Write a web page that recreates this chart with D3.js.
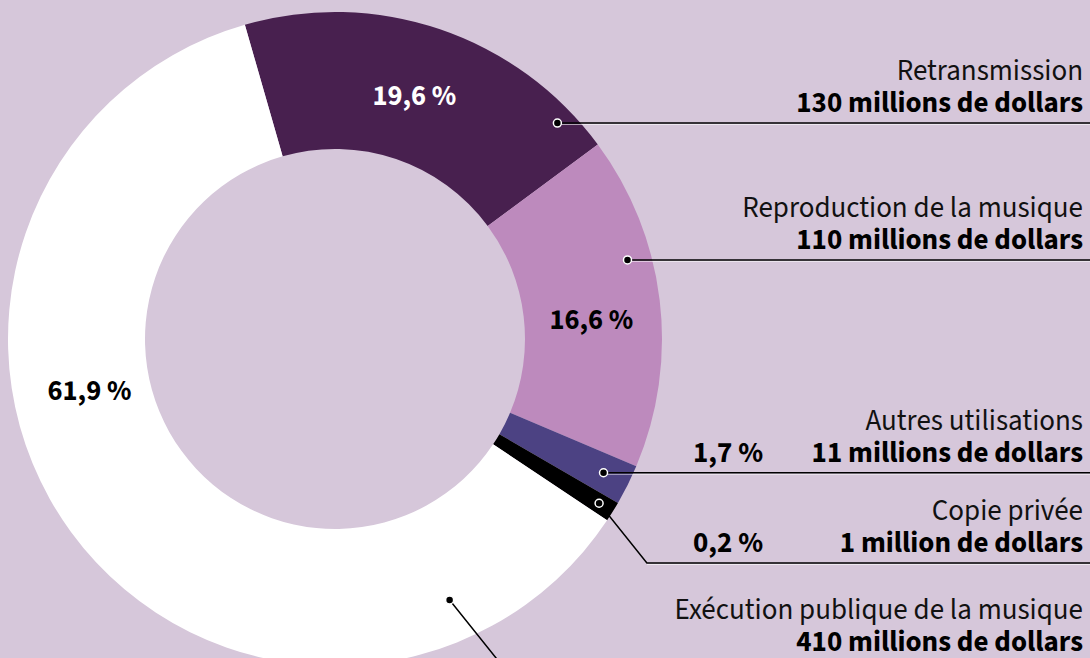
<!DOCTYPE html>
<html>
<head>
<meta charset="utf-8">
<script src="https://cdn.jsdelivr.net/npm/d3@7"></script>
<style>
  html, body { margin: 0; padding: 0; background: #d6c7da; }
  svg { display: block; }
  text { font-family: "Source Sans Pro", "Source Sans 3", "Open Sans", "Noto Sans", sans-serif; }
</style>
</head>
<body>
<svg id="chart" width="1090" height="658"></svg>
<script>
// ---------- data ----------
const categories = ["Retransmission", "Reproduction de la musique", "Autres utilisations", "Copie privée", "Exécution publique de la musique"];
const amounts = [130, 110, 11, 1, 410];               // millions de dollars
const amountLabels = ["130 millions de dollars", "110 millions de dollars", "11 millions de dollars", "1 million de dollars", "410 millions de dollars"];
const arcShares = [19.3, 16.5, 2.0, 1.0, 61.2];      // slice sizes as drawn in the picture (%)
const colors = ["#48204f", "#bd8abd", "#4c4283", "#000000", "#ffffff"];

// ---------- layout ----------
const W = 1090, H = 658;
const cx = 335, cy = 339, R = 327, r0 = 190;
const startDeg = -16;
const total = d3.sum(amounts);
const fmtPct = v => d3.format(".1f")(v).replace(".", ",") + "\u00a0%";
const FS = 29;

// label/callout layout per slice (annotation styling, not data)
const layout = [
  { pctInside: true,  pctFrac: 0.49, pctR: 256, pctFill: "#fff", dotFrac: 0.89, dotR: 310, elbowY: null },
  { pctInside: true,  pctFrac: 0.545, pctR: 257, pctFill: "#000", dotFrac: 0.36, dotR: 303, elbowY: null },
  { pctInside: false, dotFrac: 0.5, dotR: 300, elbowY: null },
  { pctInside: false, dotFrac: 0.5, dotR: 311, elbowY: 563 },
  { pctInside: true,  pctFrac: 0.61, pctR: 251, pctFill: "#000", dotFrac: 0.148, dotR: 285, elbowY: 662 }
];

const svg = d3.select("#chart");
svg.append("rect").attr("width", W).attr("height", H).attr("fill", "#d6c7da");

const idx = d3.range(categories.length);
const pie = d3.pie()
  .value(i => arcShares[i])
  .sort(null)
  .startAngle(startDeg * Math.PI / 180)
  .endAngle(startDeg * Math.PI / 180 + 2 * Math.PI);
const arcs = pie(idx);
const arc = d3.arc().innerRadius(r0).outerRadius(R);

const g = svg.append("g").attr("transform", `translate(${cx},${cy})`);
g.selectAll("path.slice").data(arcs).join("path")
  .attr("class", "slice")
  .attr("d", arc)
  .attr("fill", d => colors[d.data]);

const polar = (a, rr) => [cx + rr * Math.sin(a), cy - rr * Math.cos(a)];

// percent labels inside slices
arcs.forEach((d, k) => {
  const L = layout[k];
  if (!L.pctInside) return;
  const a = d.startAngle + (d.endAngle - d.startAngle) * L.pctFrac;
  const [x, y] = polar(a, L.pctR);
  svg.append("text")
    .attr("x", x).attr("y", y)
    .attr("text-anchor", "middle")
    .attr("dominant-baseline", "central")
    .attr("font-size", 28.5).attr("font-weight", 700)
    .attr("fill", L.pctFill)
    .text(fmtPct(amounts[d.data] / total * 100));
});

// callouts
const lines = svg.append("g");
const dots = svg.append("g");
const labels = svg.append("g");
const textX = 1083;
arcs.forEach((d, k) => {
  const L = layout[k];
  const a = d.startAngle + (d.endAngle - d.startAngle) * L.dotFrac;
  const [x, y] = polar(a, L.dotR);
  let pts, lineY;
  if (L.elbowY === null) {
    lineY = y;
    pts = [[x, y], [W, y]];
  } else {
    lineY = L.elbowY;
    const ex = x + (L.elbowY - y) * 0.8;
    pts = [[x, y], [ex, lineY], [W, lineY]];
  }
  lines.append("line")
    .attr("x1", pts[pts.length - 2][0]).attr("x2", W)
    .attr("y1", lineY + 1.5).attr("y2", lineY + 1.5)
    .attr("stroke", "#fff").attr("stroke-opacity", 0.6).attr("stroke-width", 1);
  lines.append("path")
    .attr("d", d3.line()(pts))
    .attr("fill", "none").attr("stroke", "#000").attr("stroke-width", 1.5);
  dots.append("circle")
    .attr("cx", x).attr("cy", y).attr("r", 4)
    .attr("fill", "#000").attr("stroke", "#fff").attr("stroke-width", 1.5);

  labels.append("text")
    .attr("x", textX).attr("y", lineY - 43)
    .attr("text-anchor", "end")
    .attr("font-size", FS).attr("fill", "#111")
    .text(categories[d.data]);
  labels.append("text")
    .attr("x", textX).attr("y", lineY - 11)
    .attr("text-anchor", "end")
    .attr("font-size", FS).attr("font-weight", 700).attr("fill", "#000")
    .text(amountLabels[d.data]);
  if (!L.pctInside) {
    labels.append("text")
      .attr("x", 763).attr("y", lineY - 11)
      .attr("text-anchor", "end")
      .attr("font-size", FS).attr("font-weight", 700).attr("fill", "#000")
      .text(fmtPct(amounts[d.data] / total * 100));
  }
});
</script>
</body>
</html>
